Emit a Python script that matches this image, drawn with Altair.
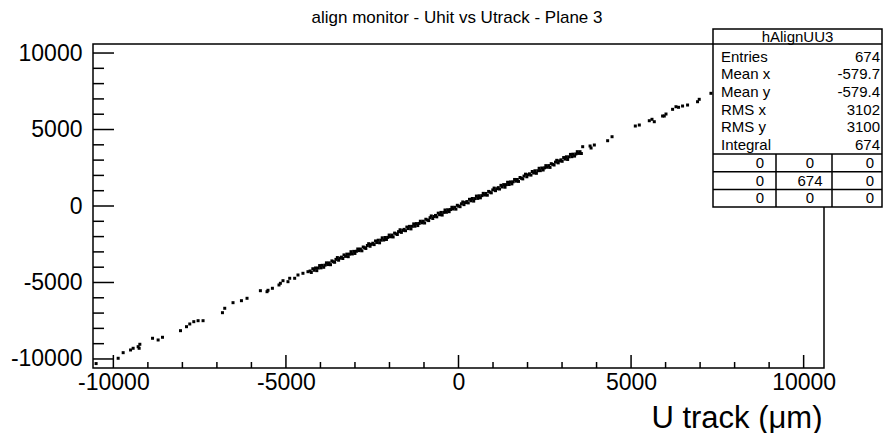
import altair as alt
import pandas as pd

# ---------------- data ----------------
sparse_neg_x = [-10500, -9861, -9716, -9502, -9427, -9282, -9233, -9253, -8865, -8703,
                -8576, -8055, -7881, -7786, -7670, -7545, -7401, -6839, -6773, -6533,
                -6289, -6127, -5740, -5548, -5520, -5392, -5201, -5161, -5085, -4941,
                -4891, -4747, -4651, -4507, -4362]
sparse_neg_y = [-10300, -9954, -9588, -9412, -9301, -9196, -9039, -9301, -8647, -8758,
                -8582, -8150, -7889, -7712, -7562, -7497, -7497, -6974, -6686, -6320,
                -6189, -6033, -5536, -5601, -5510, -5379, -5163, -5052, -4882, -4948,
                -4725, -4725, -4510, -4399, -4294]

dense_x = [
    -4300, -4265, -4221, -4183, -4142, -4106, -4063, -4024,
    -3984, -3949, -3905, -3867, -3826, -3790, -3747, -3708,
    -3668, -3633, -3589, -3551, -3510, -3474, -3431, -3392,
    -3352, -3317, -3273, -3235, -3194, -3158, -3115, -3076,
    -3036, -3001, -2957, -2919, -2878, -2842, -2799, -2760,
    -2720, -2685, -2641, -2603, -2562, -2526, -2483, -2444,
    -2404, -2369, -2325, -2287, -2246, -2210, -2167, -2128,
    -2088, -2053, -2009, -1971, -1930, -1894, -1851, -1812,
    -1772, -1737, -1693, -1655, -1614, -1578, -1535, -1496,
    -1456, -1421, -1377, -1339, -1298, -1262, -1219, -1180,
    -1140, -1105, -1061, -1023, -982, -946, -903, -864,
    -824, -789, -745, -707, -666, -630, -587, -548,
    -508, -473, -429, -391, -350, -314, -271, -232,
    -192, -157, -113, -75, -34, 2, 45, 84,
    124, 159, 203, 241, 282, 318, 361, 400,
    440, 475, 519, 557, 598, 634, 677, 716,
    756, 791, 835, 873, 914, 950, 993, 1032,
    1072, 1107, 1151, 1189, 1230, 1266, 1309, 1348,
    1388, 1423, 1467, 1505, 1546, 1582, 1625, 1664,
    1704, 1739, 1783, 1821, 1862, 1898, 1941, 1980,
    2020, 2055, 2099, 2137, 2178, 2214, 2257, 2296,
    2336, 2371, 2415, 2453, 2494, 2530, 2573, 2612,
    2652, 2687, 2731, 2769, 2810, 2846, 2889, 2928,
    2968, 3003, 3047, 3085, 3126, 3162, 3205, 3244,
    3284, 3319, 3363, 3401, 3442, 3478, 3521, 3560,
]
dense_y = [
    -4250, -4345, -4101, -4203, -4052, -4226, -4053, -3894,
    -4044, -3879, -4005, -3867, -3716, -3830, -3717, -3838,
    -3588, -3643, -3679, -3491, -3370, -3544, -3411, -3342,
    -3432, -3197, -3293, -3145, -3314, -3148, -2985, -3136,
    -2966, -3101, -2957, -2809, -2918, -2812, -2929, -2680,
    -2730, -2775, -2581, -2463, -2632, -2506, -2433, -2524,
    -2284, -2389, -2235, -2407, -2236, -2080, -2227, -2058,
    -2188, -2053, -1899, -2011, -1900, -2024, -1771, -1822,
    -1862, -1677, -1553, -1725, -1594, -1528, -1615, -1376,
    -1476, -1331, -1497, -1329, -1168, -1322, -1149, -1280,
    -1140, -995, -1101, -993, -1112, -866, -913, -954,
    -764, -649, -815, -687, -616, -710, -467, -568,
    -418, -593, -419, -261, -410, -244, -371, -232,
    -82, -197, -83, -205, 46, -8, -45, 144,
    264, 89, 223, 291, 202, 438, 341, 490,
    320, 485, 649, 497, 668, 534, 677, 826,
    716, 821, 705, 953, 904, 860, 1053, 1172,
    1002, 1127, 1201, 1109, 1350, 1246, 1399, 1228,
    1398, 1553, 1407, 1575, 1446, 1582, 1735, 1624,
    1734, 1609, 1863, 1811, 1772, 1958, 2081, 1910,
    2040, 2105, 2019, 2257, 2158, 2304, 2137, 2306,
    2466, 2311, 2485, 2353, 2494, 2640, 2533, 2642,
    2522, 2767, 2721, 2679, 2870, 2986, 2819, 2948,
    3018, 2923, 3167, 3065, 3216, 3042, 3215, 3374,
    3224, 3389, 3263, 3401, 3552, 3438, 3551, 3430,
]

sparse_pos_x = [3598, 3812, 3841, 3936, 4321, 4449, 5123, 5239, 5528, 5606, 5673,
                5913, 6012, 5962, 6203, 6301, 6376, 6492, 6637, 6926, 6975, 7314]
sparse_pos_y = [3876, 3922, 3791, 3987, 4268, 4529, 5229, 5294, 5575, 5667, 5510,
                5882, 6013, 5882, 6320, 6490, 6451, 6536, 6601, 6817, 6974, 7366]

major_ticks = [-10000, -5000, 0, 5000, 10000]
minor_ticks = [-9000, -8000, -7000, -6000, -4000, -3000, -2000, -1000,
               1000, 2000, 3000, 4000, 6000, 7000, 8000, 9000]

hist_name = "hAlignUU3"
stat_labels = ["Entries", "Mean x", "Mean y", "RMS x", "RMS y", "Integral"]
stat_values = ["674", "-579.7", "-579.4", "3102", "3100", "674"]
table_cells = [["0", "0", "0"], ["0", "674", "0"], ["0", "0", "0"]]

title_text = "align monitor - Uhit vs Utrack - Plane 3"
x_title = "U track (\u03bcm)"

# ---------------- chart ----------------
FONT = "Liberation Sans"
W, H = 731, 324
DOM = [-10590, 10590]

pts = pd.DataFrame({
    "x": sparse_neg_x + dense_x + sparse_pos_x,
    "y": sparse_neg_y + dense_y + sparse_pos_y,
})

xs = alt.Scale(domain=DOM, nice=False, zero=False)
ys = alt.Scale(domain=DOM, nice=False, zero=False)

x_axis = alt.Axis(
    values=major_ticks, ticks=False, tickSize=0, domain=False, grid=False,
    labelFontSize=23, labelPadding=3, labelColor="black", labelFont=FONT,
    labelFlush=False, labelOverlap=False, labelExpr="'' + datum.value",
    title=x_title, titleFont=FONT, titleFontSize=31, titleFontWeight="normal",
    titleColor="black", titleX=729, titleY=59, titleAlign="right",
    titleBaseline="alphabetic")
y_axis = alt.Axis(
    values=major_ticks, ticks=False, tickSize=0, domain=False, grid=False,
    labelFontSize=23, labelPadding=11, labelColor="black", labelFont=FONT,
    labelFlush=False, labelOverlap=False, labelExpr="'' + datum.value", title=None)

points = alt.Chart(pts).mark_square(size=9, color="black", opacity=1).encode(
    x=alt.X("x:Q", scale=xs, axis=x_axis, title=x_title),
    y=alt.Y("y:Q", scale=ys, axis=y_axis, title=None),
)

tick_major_x = pd.DataFrame({"x": major_ticks})
tick_minor_x = pd.DataFrame({"x": minor_ticks})
tick_major_y = pd.DataFrame({"y": major_ticks})
tick_minor_y = pd.DataFrame({"y": minor_ticks})

def xticks(df, length):
    return alt.Chart(df).mark_rule(color="black", strokeWidth=1.5).encode(
        x=alt.X("x:Q", scale=xs, axis=x_axis, title=x_title),
        y=alt.value(H), y2=alt.value(H - length))

def yticks(df, length):
    return alt.Chart(df).mark_rule(color="black", strokeWidth=1.5).encode(
        y=alt.Y("y:Q", scale=ys, axis=y_axis, title=None),
        x=alt.value(0), x2=alt.value(length))

one = pd.DataFrame({"a": [0]})

# stats box geometry (pixels relative to plot area)
BX0, BX1, BY0, BY1 = 620, 789, -15, 163
ROW0, ROWH = 12.5, 17.7
TT, TROWH = 110, 17.7
COL_L = [683, 739]
COL_C = [667, 717, 777]

layers = [points, xticks(tick_major_x, 13), xticks(tick_minor_x, 6),
          yticks(tick_major_y, 21), yticks(tick_minor_y, 11)]

layers.append(alt.Chart(one).mark_rect(fill="white", stroke="black", strokeWidth=1.5).encode(
    x=alt.value(BX0), x2=alt.value(BX1), y=alt.value(BY0), y2=alt.value(BY1)))

def hline(y, x0=BX0, x1=BX1):
    return alt.Chart(one).mark_rule(color="black", strokeWidth=1.5).encode(
        x=alt.value(x0), x2=alt.value(x1), y=alt.value(y))

def vline(x, y0, y1):
    return alt.Chart(one).mark_rule(color="black", strokeWidth=1.5).encode(
        x=alt.value(x), y=alt.value(y0), y2=alt.value(y1))

layers.append(hline(0))
layers.append(hline(TT))
layers.append(hline(TT + TROWH))
layers.append(hline(TT + 2 * TROWH))
for cx in COL_L:
    layers.append(vline(cx, TT, BY1))

def txt(s, x, y, align, size=15, baseline="middle"):
    return alt.Chart(one).mark_text(
        font=FONT, fontSize=size, align=align, baseline=baseline, color="black"
    ).encode(x=alt.value(x), y=alt.value(y), text=alt.value(s))

layers.append(txt(title_text, 364, -21.5, "center", size=17, baseline="alphabetic"))
layers.append(txt(hist_name, (BX0 + BX1) / 2, -7.5, "center"))
for i, (lab, val) in enumerate(zip(stat_labels, stat_values)):
    layers.append(txt(lab, 628, ROW0 + ROWH * i, "left"))
    layers.append(txt(val, 787, ROW0 + ROWH * i, "right"))
for r, row in enumerate(table_cells):
    for c, s in enumerate(row):
        layers.append(txt(s, COL_C[c], TT + TROWH * (r + 0.5), "center"))

chart = alt.layer(*layers).properties(
    width=W, height=H,
    autosize=alt.AutoSizeParams(type="none"),
    padding={"left": 85, "top": 36, "right": 59, "bottom": 65},
    background="white",
).configure_view(stroke="black", strokeWidth=1.5)

chart.save("out.html", embed_options={"renderer": "svg", "actions": False})
